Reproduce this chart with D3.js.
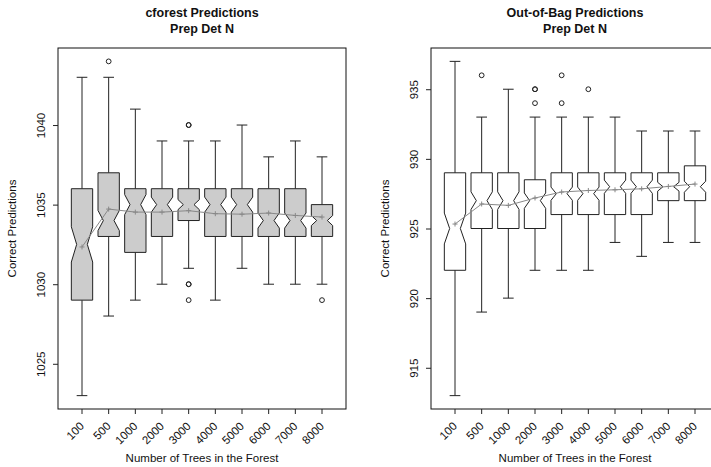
<!DOCTYPE html>
<html>
<head>
<meta charset="utf-8">
<script src="https://cdn.jsdelivr.net/npm/d3@7"></script>
<style>
  body { margin: 0; background: #fff; }
  svg { display: block; font-family: "Liberation Sans", Arial, sans-serif; }
</style>
</head>
<body>
<script>
'use strict';

// number of trees (x categories)
const trees = ["100", "500", "1000", "2000", "3000", "4000", "5000", "6000", "7000", "8000"];

// cforest predictions, five-number summaries + means
const cfLow  = [1023, 1028, 1029, 1030, 1031, 1029, 1031, 1030, 1030, 1030];
const cfQ1   = [1029, 1033, 1032, 1033, 1034, 1033, 1033, 1033, 1033, 1033];
const cfMed  = [1032.5, 1034, 1035, 1035, 1035, 1035, 1035, 1034, 1034, 1034];
const cfQ3   = [1036, 1037, 1036, 1036, 1036, 1036, 1036, 1036, 1036, 1035];
const cfHigh = [1043, 1043, 1041, 1039, 1039, 1039, 1040, 1038, 1039, 1038];
const cfMean = [1032.34, 1034.72, 1034.53, 1034.53, 1034.62, 1034.43, 1034.4, 1034.47, 1034.32, 1034.22];
const cfOut  = [[], [1044], [], [], [1040, 1040, 1030, 1030, 1029], [], [], [], [], [1029]];
const cfTicks = [1025, 1030, 1035, 1040];

// out-of-bag predictions
const oobLow  = [913, 919, 920, 922, 922, 922, 924, 923, 924, 924];
const oobQ1   = [922, 925, 925, 925, 926, 926, 926, 926, 927, 927];
const oobMed  = [925, 927, 927, 927, 927.5, 927.5, 928, 928, 928, 928];
const oobQ3   = [929, 929, 929, 928.5, 929, 929, 929, 929, 929, 929.5];
const oobHigh = [937, 933, 935, 933, 933, 933, 933, 932, 932, 932];
const oobMean = [925.32, 926.76, 926.66, 927.19, 927.62, 927.73, 927.78, 927.85, 928.02, 928.19];
const oobOut  = [[], [936], [], [935, 935, 934], [936, 934], [935], [], [], [], []];
const oobTicks = [915, 920, 925, 930, 935];

const notchK = 1.58 / Math.sqrt(100); // notch half height relative to IQR

(function() {

  const svg = d3.select('body')
    .append('svg')
    .attr('width', 711)
    .attr('height', 467);

  const leftMsm  = { left: 58, right: 346, top: 48, bottom: 409 };
  const rightMsm = { left: 431, right: 719, top: 48, bottom: 409 };

  drawPanel(svg, leftMsm, ["cforest Predictions", "Prep Det N"],
    cfLow, cfQ1, cfMed, cfQ3, cfHigh, cfMean, cfOut, cfTicks, '#cccccc');
  drawPanel(svg, rightMsm, ["Out-of-Bag Predictions", "Prep Det N"],
    oobLow, oobQ1, oobMed, oobQ3, oobHigh, oobMean, oobOut, oobTicks, 'none');

  function drawPanel(container, msm, title, low, q1, med, q3, high, mean, out, ticks, fill) {
    const g = container.append('g');

    // build rows for each box
    let rows = trees.map((t, i) => ({
      key: t, low: low[i], q1: q1[i], med: med[i], q3: q3[i], high: high[i], mean: mean[i], out: out[i]
    }));

    // x scale: bands with 0.4 step margin either side (like R's boxplot)
    let x = d3.scaleBand()
      .domain(trees)
      .range([msm.left, msm.right])
      .paddingInner(0.2)
      .paddingOuter(0.5);
    let cx = (k) => x(k) + x.bandwidth() / 2;

    // y scale: data range padded by 4%
    let allVals = low.concat(high, d3.merge(out));
    let ext = d3.extent(allVals);
    let pad = (ext[1] - ext[0]) * 0.04;
    let y = d3.scaleLinear()
      .domain([ext[0] - pad, ext[1] + pad])
      .range([msm.bottom, msm.top]);

    let w = x.bandwidth() / 2;
    let wn = w / 2;
    let staple = w / 2;

    // whiskers
    rows.forEach((d) => {
      g.append('line')
        .attr('x1', cx(d.key)).attr('x2', cx(d.key))
        .attr('y1', y(d.q3)).attr('y2', y(d.high))
        .attr('stroke', '#222');
      g.append('line')
        .attr('x1', cx(d.key)).attr('x2', cx(d.key))
        .attr('y1', y(d.q1)).attr('y2', y(d.low))
        .attr('stroke', '#222');
      [d.low, d.high].forEach((v) => {
        g.append('line')
          .attr('x1', cx(d.key) - staple).attr('x2', cx(d.key) + staple)
          .attr('y1', y(v)).attr('y2', y(v))
          .attr('stroke', '#222');
      });
    });

    // notched boxes
    g.selectAll('.box')
      .data(rows)
      .enter()
      .append('path')
        .attr('class', 'box')
        .attr('fill', fill)
        .attr('stroke', '#222')
        .attr('stroke-width', 1)
        .attr('d', (d) => {
          let c = cx(d.key);
          let n = notchK * (d.q3 - d.q1);
          let pts = [
            [c - w, y(d.q1)], [c - w, y(d.med - n)], [c - wn, y(d.med)], [c - w, y(d.med + n)], [c - w, y(d.q3)],
            [c + w, y(d.q3)], [c + w, y(d.med + n)], [c + wn, y(d.med)], [c + w, y(d.med - n)], [c + w, y(d.q1)]
          ];
          return 'M' + pts.map((p) => p.join(',')).join('L') + 'Z';
        });

    // outliers
    rows.forEach((d) => {
      g.selectAll(null)
        .data(d.out)
        .enter()
        .append('circle')
          .attr('cx', cx(d.key))
          .attr('cy', (v) => y(v))
          .attr('r', 2.4)
          .attr('fill', 'none')
          .attr('stroke', '#222');
    });

    // mean line with + markers
    g.append('path')
      .datum(rows)
      .attr('fill', 'none')
      .attr('stroke', '#888')
      .attr('stroke-width', 1)
      .attr('d', d3.line().x((d) => cx(d.key)).y((d) => y(d.mean)));
    g.selectAll('.mean')
      .data(rows)
      .enter()
      .append('path')
        .attr('class', 'mean')
        .attr('stroke', '#888')
        .attr('d', (d) => {
          let px = cx(d.key), py = y(d.mean);
          return 'M' + (px - 2.5) + ',' + py + 'H' + (px + 2.5) + 'M' + px + ',' + (py - 2.5) + 'V' + (py + 2.5);
        });

    // plot frame
    g.append('rect')
      .attr('x', msm.left).attr('y', msm.top)
      .attr('width', msm.right - msm.left).attr('height', msm.bottom - msm.top)
      .attr('fill', 'none')
      .attr('stroke', '#111');

    // x axis, labels rotated 45 degrees
    let xAxis = g.append('g')
      .attr('transform', 'translate(0,' + msm.bottom + ')')
      .call(d3.axisBottom(x).tickSize(5).tickSizeOuter(0));
    xAxis.select('.domain').remove();
    xAxis.selectAll('line').attr('stroke', '#222');
    xAxis.selectAll('text')
      .attr('fill', '#111')
      .style('font-size', '11.5px')
      .attr('text-anchor', 'end')
      .attr('y', 0)
      .attr('dy', '0.35em')
      .attr('transform', 'translate(0,15) rotate(-45)');

    // y axis, labels parallel to axis
    let yAxis = g.append('g')
      .attr('transform', 'translate(' + msm.left + ',0)')
      .call(d3.axisLeft(y).tickValues(ticks).tickSize(5).tickSizeOuter(0).tickFormat(d3.format('d')));
    yAxis.select('.domain').remove();
    yAxis.selectAll('line').attr('stroke', '#222');
    yAxis.selectAll('text')
      .attr('fill', '#111')
      .style('font-size', '11.5px')
      .attr('text-anchor', 'middle')
      .attr('x', 0)
      .attr('dy', 0)
      .attr('transform', 'translate(-13,0) rotate(-90)');

    // titles and axis labels
    let mid = (msm.left + msm.right) / 2;
    title.forEach((t, i) => {
      g.append('text')
        .attr('x', mid)
        .attr('y', 17 + i * 16)
        .attr('text-anchor', 'middle')
        .style('font-size', '12.5px')
        .style('font-weight', 'bold')
        .attr('fill', '#111')
        .text(t);
    });
    g.append('text')
      .attr('x', mid)
      .attr('y', 462)
      .attr('text-anchor', 'middle')
      .style('font-size', '11.5px')
      .attr('fill', '#111')
      .text('Number of Trees in the Forest');
    g.append('text')
      .attr('transform', 'translate(' + (msm.left - 42) + ',' + ((msm.top + msm.bottom) / 2) + ') rotate(-90)')
      .attr('text-anchor', 'middle')
      .style('font-size', '11.5px')
      .attr('fill', '#111')
      .text('Correct Predictions');
  }

})();
</script>
</body>
</html>
